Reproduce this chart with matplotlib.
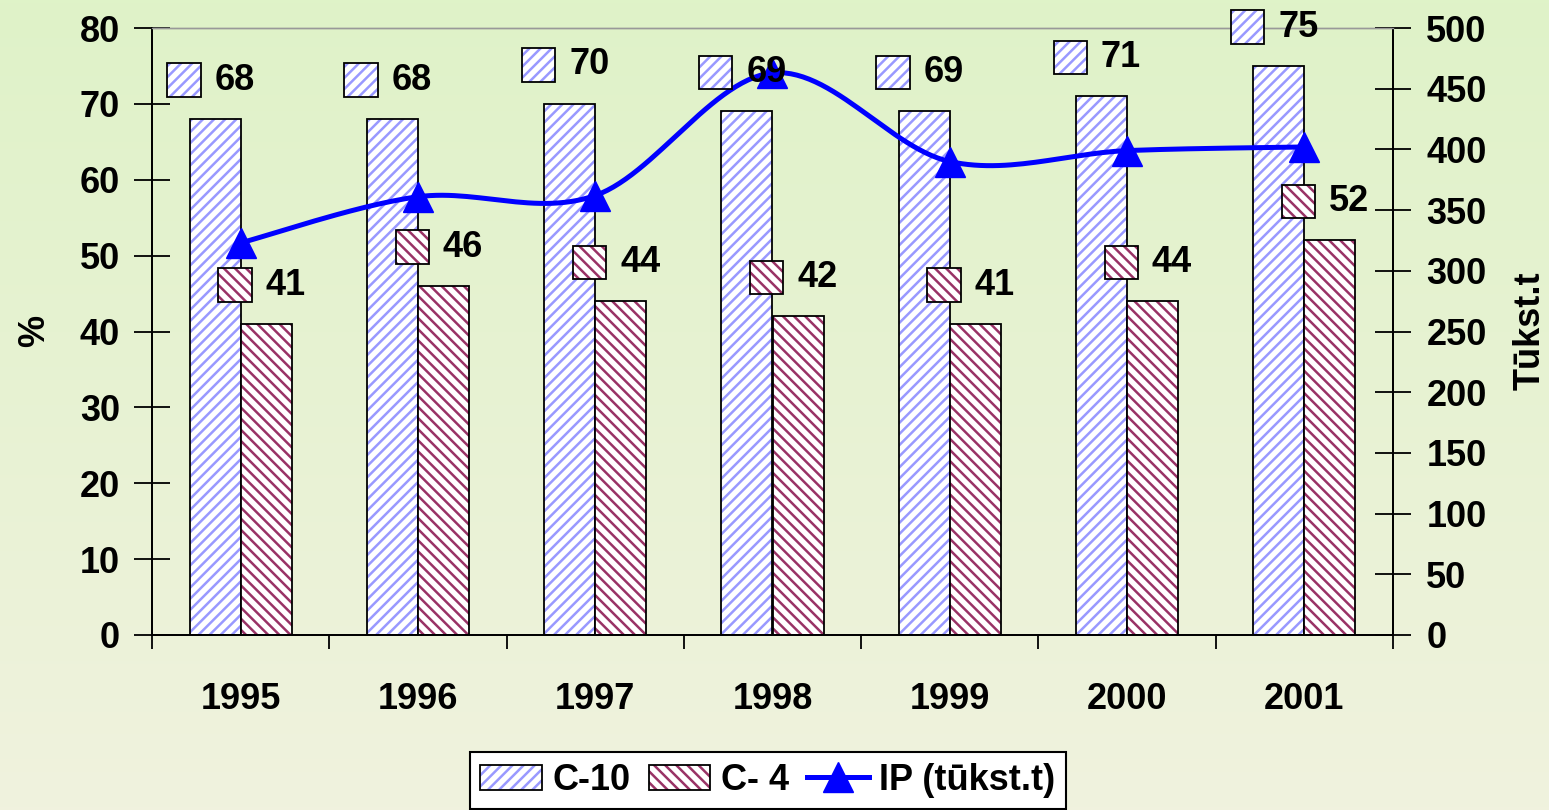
import numpy as np
import matplotlib
matplotlib.use("Agg")
import matplotlib.pyplot as plt
from matplotlib.patches import Rectangle, Patch
from matplotlib.lines import Line2D
from matplotlib.offsetbox import AnnotationBbox, HPacker, DrawingArea, TextArea
from matplotlib.legend_handler import HandlerTuple

plt.rcParams['font.family'] = ['Liberation Sans', 'DejaVu Sans']
plt.rcParams['font.weight'] = 'bold'
plt.rcParams['hatch.linewidth'] = 1.8

# data
years = ['1995', '1996', '1997', '1998', '1999', '2000', '2001']
c10 = [68, 68, 70, 69, 69, 71, 75]
c4 = [41, 46, 44, 42, 41, 44, 52]
ip = [323, 361, 362, 463, 390, 399, 402]

c10_col = '#9999FF'
c4_col = '#993366'
line_col = '#0000FF'
fs = 26

fig = plt.figure(figsize=(15.49, 8.10), dpi=100)

# background gradient
bg = fig.add_axes([0, 0, 1, 1], zorder=-10)
top = np.array([223, 243, 200]) / 255
bot = np.array([240, 242, 222]) / 255
t = np.linspace(0, 1, 256)[:, None]
grad = top[None, :] * (1 - t) + bot[None, :] * t
bg.imshow(grad[:, None, :], aspect='auto', extent=[0, 1, 0, 1])
bg.axis('off')

ax1 = fig.add_axes([152 / 1549, 1 - 635 / 810, (1393 - 152) / 1549, (635 - 28) / 810])
ax1.patch.set_alpha(0)
ax2 = ax1.twinx()
ax2.patch.set_alpha(0)

x = np.arange(len(years))
w = 0.288

# bars: hatch layer, then black outline
ax1.bar(x - w / 2, c10, w, facecolor='white', edgecolor=c10_col, hatch='///', linewidth=0)
ax1.bar(x - w / 2, c10, w, fill=False, edgecolor='black', linewidth=1.3)
ax1.bar(x + w / 2, c4, w, facecolor='white', edgecolor=c4_col, hatch='\\\\\\', linewidth=0)
ax1.bar(x + w / 2, c4, w, fill=False, edgecolor='black', linewidth=1.3)

ax1.set_xlim(-0.5, 6.5)
ax1.set_ylim(0, 80)
ax1.set_yticks(range(0, 81, 10))
ax1.set_xticks(x)
ax1.set_xticklabels(years)
ax1.set_xticks(np.arange(-0.5, 7, 1), minor=True)
ax1.tick_params(axis='x', which='major', length=0, pad=34, labelsize=fs)
ax1.tick_params(axis='x', which='minor', length=10, direction='out', width=1.3)
ax1.tick_params(axis='y', length=26, direction='inout', width=1.3, pad=10, labelsize=fs)

# smoothed line (bezier, like the spreadsheet smoothing)
pts = np.column_stack([x, ip]).astype(float)
ext = np.vstack([pts[0], pts, pts[-1]])
sx, sy = [], []
u = np.linspace(0, 1, 30)
for i in range(len(pts) - 1):
    p0 = ext[i + 1]
    p3 = ext[i + 2]
    p1 = p0 + (ext[i + 2] - ext[i]) / 6
    p2 = p3 - (ext[i + 3] - ext[i + 1]) / 6
    b = ((1 - u) ** 3)[:, None] * p0 + (3 * (1 - u) ** 2 * u)[:, None] * p1 \
        + (3 * (1 - u) * u ** 2)[:, None] * p2 + (u ** 3)[:, None] * p3
    sx.extend(b[:, 0])
    sy.extend(b[:, 1])
ax2.plot(sx, sy, color=line_col, linewidth=3.6, solid_capstyle='round')
ax2.plot(x, ip, linestyle='none', marker='^', markersize=22, color=line_col)
ax2.set_ylim(0, 500)
ax2.set_yticks(range(0, 501, 50))
ax2.tick_params(axis='y', length=26, direction='inout', width=1.3, pad=11, labelsize=fs)

for a in (ax1, ax2):
    a.spines['top'].set_color('#999999')
    a.spines['top'].set_linewidth(1)
    for s in ('left', 'right', 'bottom'):
        a.spines[s].set_linewidth(1.3)


def key_box(color, hatch, size=24):
    da = DrawingArea(size, size, 0, 0)
    da.add_artist(Rectangle((0, 0), size, size, facecolor='white', edgecolor=color,
                            hatch=hatch, linewidth=0))
    da.add_artist(Rectangle((0, 0), size, size, fill=False, edgecolor='black', linewidth=1.3))
    return da


def add_label(xpos, val, color, hatch):
    box = HPacker(children=[key_box(color, hatch),
                            TextArea(str(val), textprops=dict(fontsize=fs, fontweight='bold'))],
                  align='center', pad=0, sep=10)
    ab = AnnotationBbox(box, (xpos, val), xycoords=ax1.transData, xybox=(-3, 28),
                        boxcoords='offset points', frameon=False, box_alignment=(0.5, 0.5))
    ax2.add_artist(ab)


for i in range(len(years)):
    add_label(x[i] - w / 2, c10[i], c10_col, '///')
    add_label(x[i] + w / 2, c4[i], c4_col, '\\\\\\')

fig.text(35 / 1549, 1 - 331 / 810, '%', rotation=90, ha='center', va='center',
         fontsize=fs, fontweight='bold')
fig.text(1530 / 1549, 1 - 331 / 810, 'Tūkst.t', rotation=90, ha='center', va='center',
         fontsize=fs, fontweight='bold')

# legend
h1 = (Patch(facecolor='white', edgecolor=c10_col, hatch='///', linewidth=0),
      Patch(fill=False, edgecolor='black', linewidth=1.3))
h2 = (Patch(facecolor='white', edgecolor=c4_col, hatch='\\\\\\', linewidth=0),
      Patch(fill=False, edgecolor='black', linewidth=1.3))
h3 = Line2D([], [], color=line_col, linewidth=3.6, marker='^', markersize=22)
leg = fig.legend([h1, h2, h3], ['C-10', 'C- 4', 'IP (tūkst.t)'],
                 handler_map={tuple: HandlerTuple(ndivide=1)},
                 loc='upper center', bbox_to_anchor=(768 / 1549, 1 - 752 / 810),
                 ncol=3, prop=dict(size=fs, weight='bold'),
                 frameon=True, fancybox=False, edgecolor='black', framealpha=1,
                 handlelength=1.7, handletextpad=0.3, columnspacing=0.5,
                 borderpad=0.3, borderaxespad=0)
leg.get_frame().set_linewidth(1.5)

fig.savefig('out.png', dpi=100)
